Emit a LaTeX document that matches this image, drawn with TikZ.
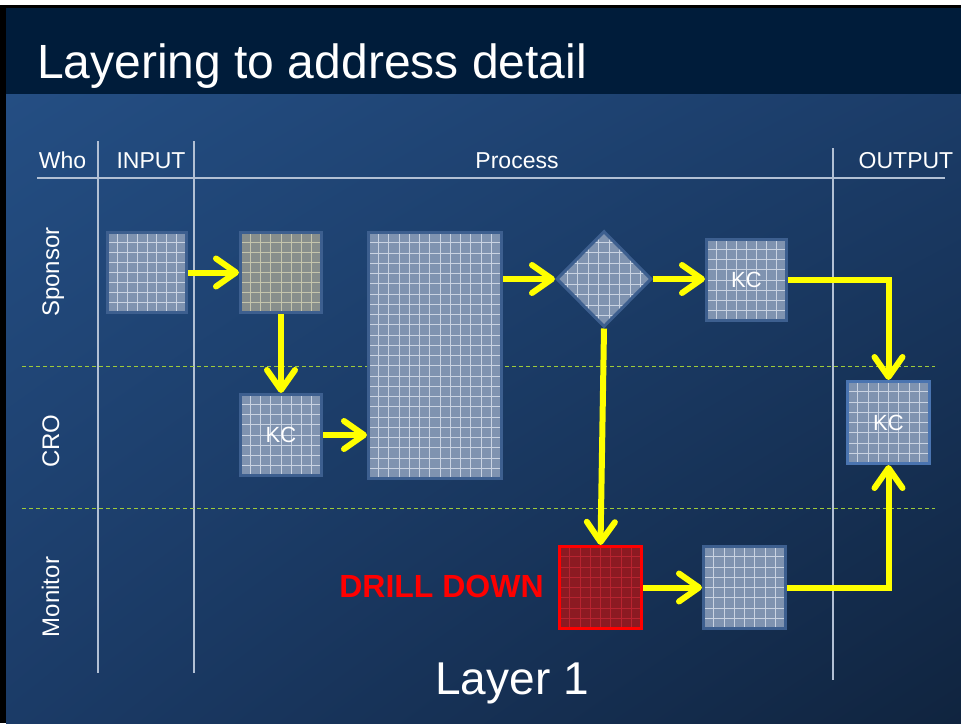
\documentclass[tikz,border=0pt]{standalone}
\usepackage{fontspec}
\setmainfont{Liberation Sans}
\usetikzlibrary{arrows.meta,shapes.geometric,calc,shadings}
\definecolor{titlebg}{HTML}{001C3A}
\definecolor{bgUL}{HTML}{244E83}
\definecolor{bgUR}{HTML}{1B3C68}
\definecolor{bgLL}{HTML}{1B3B67}
\definecolor{bgLR}{HTML}{10243F}
\definecolor{boxfill}{HTML}{7F93B0}
\definecolor{boxborder}{HTML}{3D5F8F}
\definecolor{boxgrid}{HTML}{C9D3E2}
\definecolor{olivefill}{HTML}{878E8C}
\definecolor{olivegrid}{HTML}{C4C4AC}
\definecolor{redfill}{HTML}{8C1A22}
\definecolor{redgrid}{HTML}{B82430}
\definecolor{kcborder}{HTML}{4A74B0}
\definecolor{sepline}{HTML}{B2C0D4}
\definecolor{lanedash}{HTML}{9FCB3A}
\definecolor{arrowyellow}{HTML}{FFFF00}
\begin{document}
\begin{tikzpicture}[x=1pt,y=-1pt,
  cells/.style n args={3}{path picture={
    \foreach \k in {1,...,#1}{\pgfmathsetmacro\f{\k/#1}
      \draw[draw=#3,line width=1pt] ($(path picture bounding box.north west)!\f!(path picture bounding box.north east)$) -- ($(path picture bounding box.south west)!\f!(path picture bounding box.south east)$);}
    \foreach \k in {1,...,#2}{\pgfmathsetmacro\f{\k/#2}
      \draw[draw=#3,line width=1pt] ($(path picture bounding box.north west)!\f!(path picture bounding box.south west)$) -- ($(path picture bounding box.north east)!\f!(path picture bounding box.south east)$);}
  }},
  gbox/.style={rectangle, inner sep=0pt, draw=boxborder, line width=3pt, fill=boxfill},
  kc/.style={label={[text=white, inner sep=0pt, font=\fontsize{22}{24}\selectfont]center:KC}},
  flow/.style={draw=arrowyellow, line width=6pt,
    -{Straight Barb[length=20pt,width=28pt,round]}},
  sep/.style={draw=sepline, line width=1.3pt},
  lanesep/.style={draw=lanedash, line width=1pt, dash pattern=on 4pt off 3pt},
  hdr/.style={text=white, anchor=base, inner sep=0pt, font=\fontsize{23}{25}\selectfont},
  lane/.style={text=white, anchor=base, inner sep=0pt, rotate=90, font=\fontsize{24}{26}\selectfont}
]
\useasboundingbox (0,0) rectangle (961,723);
% background
\fill[white] (0,0) rectangle (961,723);
\fill[black] (0,5) rectangle (961,723);
\fill[titlebg] (6,8) rectangle (961,94);
\shade[upper left=bgUL, upper right=bgUR, lower left=bgLL, lower right=bgLR] (6,94) rectangle (961,723);
% title
\node[text=white, anchor=base west, inner sep=0pt, font=\fontsize{48}{52}\selectfont] (title) at (37,78) {Layering to address detail};
% table frame
\coordinate (v1t) at (98,141); \coordinate (v1b) at (98,673);
\coordinate (v2t) at (194,141); \coordinate (v2b) at (194,673);
\coordinate (v3t) at (833,148); \coordinate (v3b) at (833,680);
\coordinate (hl) at (37,178); \coordinate (hr) at (945,178);
\draw[sep] (v1t) -- (v1b);
\draw[sep] (v2t) -- (v2b);
\draw[sep] (v3t) -- (v3b);
\draw[sep] (hl) -- (hr);
\coordinate (d1l) at (22,366); \coordinate (d1r) at (935,366);
\coordinate (d2l) at (22,508); \coordinate (d2r) at (935,508);
\draw[lanesep] (d1l) -- (d1r);
\draw[lanesep] (d2l) -- (d2r);
% headers
\node[hdr] (hwho) at (62.5,168) {Who};
\node[hdr] (hin) at (151,168) {INPUT};
\node[hdr] (hproc) at (517,168) {Process};
\node[hdr] (hout) at (906,168) {OUTPUT};
% lanes
\node[lane] (lsp) at (59,272) {Sponsor};
\node[lane] (lcro) at (59,441) {CRO};
\node[lane] (lmon) at (59,597) {Monitor};
% boxes
\node[gbox, minimum width=79pt, minimum height=80pt, cells={8}{8}{boxgrid}] (b1) at (147,272.5) {};
\node[gbox, fill=olivefill, minimum width=81pt, minimum height=80pt, cells={8}{8}{olivegrid}] (b2) at (281,272.5) {};
\node[gbox, kc, minimum width=81pt, minimum height=81pt, cells={8}{8}{boxgrid}] (kc1) at (281,435) {};
\node[gbox, minimum width=133pt, minimum height=246pt, cells={13}{24}{boxgrid}] (big) at (435,355.5) {};
\node[gbox, shape=diamond, minimum width=95pt, minimum height=96pt, cells={9}{9}{boxgrid}] (dia) at (604,279) {};
\node[gbox, kc, minimum width=80pt, minimum height=81pt, cells={8}{8}{boxgrid}] (kc2) at (746.5,280) {};
\node[gbox, kc, draw=kcborder, minimum width=82pt, minimum height=82pt, cells={8}{8}{boxgrid}] (kc3) at (888.5,422.5) {};
\node[gbox, fill=redfill, draw=red, minimum width=82pt, minimum height=82pt, cells={8}{8}{redgrid}] (red) at (600.5,587.5) {};
\node[gbox, minimum width=82pt, minimum height=82pt, cells={8}{8}{boxgrid}] (b7) at (744.5,587.5) {};
% labels
\node[text=red, anchor=base, inner sep=0pt, font=\bfseries\fontsize{32}{34}\selectfont] (drill) at (441.5,597) {DRILL DOWN};
\node[text=white, anchor=base, inner sep=0pt, font=\fontsize{46}{48}\selectfont] (layer) at (512,694) {Layer 1};
% connectors
\draw[flow] (b1) -- (b2);
\draw[flow] (b2) -- (kc1);
\draw[flow] (kc1.east) -- (kc1.east -| big.west);
\draw[flow] (dia.west -| big.east) -- (dia.west);
\draw[flow] (dia.east) -- (kc2.west |- dia.east);
\draw[flow] (kc2.east) -| (kc3.north);
\draw[flow] (dia.south) -- (red.north);
\draw[flow] (red) -- (b7);
\draw[flow] (b7.east) -| (kc3.south);
\end{tikzpicture}
\end{document}
